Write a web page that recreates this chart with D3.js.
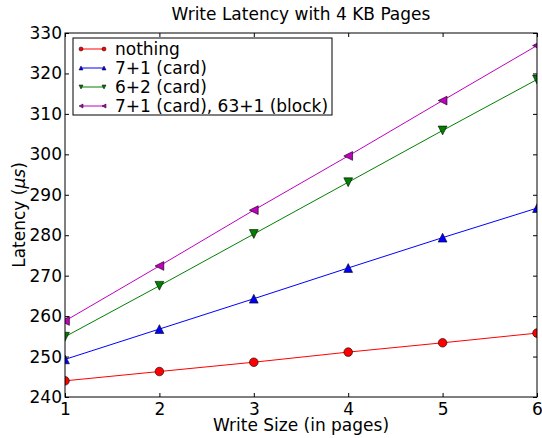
<!DOCTYPE html>
<meta charset="utf-8">
<style>
  body { margin: 0; background: #fff; }
  text { font-family: "DejaVu Sans", sans-serif; fill: #000; }
</style>
<div id="chart"></div>
<script src="https://cdn.jsdelivr.net/npm/d3@7"></script>
<script>

var sizes = [1, 2, 3, 4, 5, 6];
var nothing = [244.0, 246.3, 248.6, 251.1, 253.4, 255.8];
var card71 = [249.3, 256.8, 264.3, 271.9, 279.4, 286.7];
var card62 = [254.9, 267.5, 280.3, 293.1, 305.9, 318.5];
var cardBlock = [258.8, 272.4, 286.2, 299.6, 313.3, 326.9];
var names = ["nothing", "7+1 (card)", "6+2 (card)", "7+1 (card), 63+1 (block)"];
var yTicks = [240, 250, 260, 270, 280, 290, 300, 310, 320, 330];

var series = [
  {name: names[0], values: nothing, color: "#ff0000", marker: "circle"},
  {name: names[1], values: card71, color: "#0000ff", marker: "up"},
  {name: names[2], values: card62, color: "#008000", marker: "down"},
  {name: names[3], values: cardBlock, color: "#bf00bf", marker: "left"}
];

var W = 542, H = 438;
var margin = {top: 33, right: 5, bottom: 41, left: 65},
    width = W - margin.left - margin.right,
    height = H - margin.top - margin.bottom;

var svg = d3.select("#chart").append("svg")
    .attr("width", W)
    .attr("height", H);

var g = svg.append("g")
    .attr("transform", "translate(" + margin.left + "," + margin.top + ")");

var x = d3.scaleLinear().domain([1, 6]).range([0, width]);
var y = d3.scaleLinear().domain([240, 330]).range([height, 0]);

svg.append("defs").append("clipPath").attr("id", "clip")
  .append("rect").attr("width", width).attr("height", height);

// marker path, s = half-size
function markerPath(type, s) {
  if (type == "circle") return d3.symbol().type(d3.symbolCircle).size(Math.PI * s * s)();
  if (type == "up") return "M0," + (-s) + "L" + s + "," + s + "L" + (-s) + "," + s + "Z";
  if (type == "down") return "M0," + s + "L" + s + "," + (-s) + "L" + (-s) + "," + (-s) + "Z";
  return "M" + (-s) + ",0L" + s + "," + (-s) + "L" + s + "," + s + "Z";
}

var line = d3.line()
  .x(function(d, i) { return x(sizes[i]); })
  .y(function(d) { return y(d); });

var plot = g.append("g").attr("clip-path", "url(#clip)");

series.forEach(function(s) {
  plot.append("path")
    .attr("d", line(s.values))
    .attr("fill", "none")
    .attr("stroke", s.color)
    .attr("stroke-width", 1);
  plot.selectAll(null)
    .data(s.values)
    .enter().append("path")
      .attr("transform", function(d, i) { return "translate(" + x(sizes[i]) + "," + y(d) + ")"; })
      .attr("d", markerPath(s.marker, s.marker == "circle" ? 4.3 : 4.4))
      .attr("fill", s.color)
      .attr("stroke", "#000")
      .attr("stroke-width", 0.6);
});

// axes, ticks inside on all sides
function styleAxis(sel) {
  sel.select(".domain").remove();
  sel.selectAll("line").attr("stroke", "#000");
  sel.selectAll("text").style("font-size", "17px");
}

g.append("g")
  .attr("transform", "translate(0," + height + ")")
  .call(d3.axisBottom(x).tickValues(sizes).tickFormat(d3.format("d")).tickSizeInner(-4).tickPadding(6))
  .call(styleAxis);
g.append("g")
  .call(d3.axisTop(x).tickValues(sizes).tickSizeInner(-4).tickFormat(""))
  .call(styleAxis);
g.append("g")
  .call(d3.axisLeft(y).tickValues(yTicks).tickSizeInner(-4).tickPadding(3))
  .call(styleAxis);
g.append("g")
  .attr("transform", "translate(" + width + ",0)")
  .call(d3.axisRight(y).tickValues(yTicks).tickSizeInner(-4).tickFormat(""))
  .call(styleAxis);

g.append("rect")
  .attr("width", width).attr("height", height)
  .attr("fill", "none").attr("stroke", "#000").attr("stroke-width", 1);

// title and labels
svg.append("text")
  .attr("x", margin.left + width / 2).attr("y", 20)
  .attr("text-anchor", "middle")
  .style("font-size", "17px")
  .text("Write Latency with 4 KB Pages");

svg.append("text")
  .attr("x", margin.left + width / 2).attr("y", 431)
  .attr("text-anchor", "middle")
  .style("font-size", "17px")
  .text("Write Size (in pages)");

var yl = svg.append("text")
  .attr("transform", "translate(25," + (margin.top + height / 2) + ") rotate(-90)")
  .attr("text-anchor", "middle")
  .style("font-size", "17px");
yl.append("tspan").text("Latency (");
yl.append("tspan").style("font-style", "italic").text("\u03bcs");
yl.append("tspan").text(")");

// legend
var leg = g.append("g").attr("transform", "translate(8,5)");
leg.append("rect")
  .attr("width", 259).attr("height", 77)
  .attr("fill", "#fff").attr("stroke", "#000").attr("stroke-width", 1);

series.forEach(function(s, i) {
  var ly = 11 + i * 19;
  leg.append("line")
    .attr("x1", 8).attr("x2", 31).attr("y1", ly).attr("y2", ly)
    .attr("stroke", s.color).attr("stroke-width", 1);
  [8, 31].forEach(function(mx) {
    leg.append("path")
      .attr("transform", "translate(" + mx + "," + ly + ")")
      .attr("d", markerPath(s.marker, 2))
      .attr("fill", s.color).attr("stroke", "#000").attr("stroke-width", 0.5);
  });
  leg.append("text")
    .attr("x", 42).attr("y", ly + 6)
    .style("font-size", "17px")
    .text(s.name);
});

</script>
